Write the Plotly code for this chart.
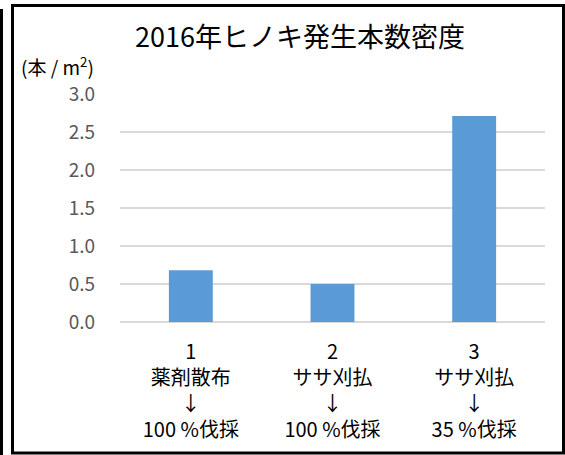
import plotly.graph_objects as go

# Seedling density of hinoki cypress by treatment, 2016
categories = ["1", "2", "3"]
treatments = ["薬剤散布", "ササ刈払", "ササ刈払"]
harvest = ["100 %伐採", "100 %伐採", "35 %伐採"]
density = [0.68, 0.5, 2.71]
y_ticks = [0.0, 0.5, 1.0, 1.5, 2.0, 2.5, 3.0]

W, H = 565, 455
ML, MR, MT, MB = 120, 20, 94, 133
PW, PH = W - ML - MR, H - MT - MB


def px_x(x):
    return (x - ML) / PW


def px_y(y):
    return 1 - (y - MT) / PH


tick_text = [f"{c}<br>{t}<br>↓<br>{h}" for c, t, h in zip(categories, treatments, harvest)]

fig = go.Figure(
    go.Bar(
        x=categories,
        y=density,
        marker=dict(color="#5b9bd5", line=dict(width=0)),
        width=0.31,
    )
)

font_family = "Noto Sans CJK JP, Noto Sans, sans-serif"

fig.update_layout(
    width=W,
    height=H,
    margin=dict(l=ML, r=MR, t=MT, b=MB),
    paper_bgcolor="white",
    plot_bgcolor="white",
    showlegend=False,
    font=dict(family=font_family, color="#000000"),
    title=dict(
        text="2016年ヒノキ発生本数密度",
        x=px_x(300),
        xref="paper",
        xanchor="center",
        y=1 - 38 / H,
        yanchor="middle",
        font=dict(size=27, color="#000000", family=font_family),
    ),
    xaxis=dict(
        tickmode="array",
        tickvals=categories,
        ticktext=tick_text,
        tickfont=dict(size=20, color="#000000"),
        showgrid=False,
        showline=False,
        ticks="",
        ticklabelstandoff=16,
    ),
    yaxis=dict(
        range=[0, 3.0],
        tickmode="array",
        tickvals=y_ticks,
        ticktext=[f"{v:.1f}" for v in y_ticks],
        tickfont=dict(size=19, color="#595959"),
        showgrid=True,
        gridcolor="#d9d9d9",
        gridwidth=2,
        zeroline=True,
        zerolinecolor="#d9d9d9",
        zerolinewidth=2,
        showline=False,
        ticks="",
        ticklabelstandoff=24,
    ),
    annotations=[
        dict(
            text="(本 / m<sup>2</sup>)",
            xref="paper",
            yref="paper",
            x=px_x(19),
            y=px_y(66),
            xanchor="left",
            yanchor="middle",
            showarrow=False,
            font=dict(size=19, color="#000000", family=font_family),
        )
    ],
    shapes=[
        dict(
            type="rect",
            xref="paper",
            yref="paper",
            x0=px_x(12.5),
            x1=px_x(563.5),
            y0=px_y(5.5),
            y1=px_y(453),
            line=dict(color="#000000", width=3),
            layer="above",
        ),
        dict(
            type="line",
            xref="paper",
            yref="paper",
            x0=px_x(1.5),
            x1=px_x(1.5),
            y0=px_y(9),
            y1=px_y(456),
            line=dict(color="#000000", width=3),
        ),
    ],
)

fig.write_html("out.html")
